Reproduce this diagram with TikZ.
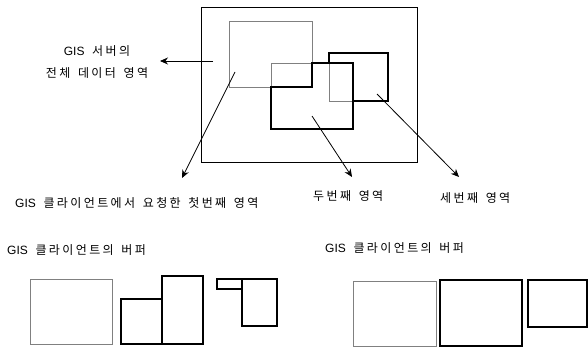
\documentclass[tikz,border=0pt]{standalone}
\usepackage{fontspec}
\setmainfont{Noto Sans CJK KR}
\newfontfamily\kr[LetterSpace=20,WordSpace=1.5]{Noto Sans CJK KR}
\newfontfamily\latf{Liberation Sans}
\newcommand{\gisw}{{\latf GIS}}
\usetikzlibrary{arrows.meta}
\begin{document}
\begin{tikzpicture}[x=1pt,y=-1pt,
  thin gray/.style={draw=black!50,line width=0.9pt},
  thickline/.style={draw=black,line width=2pt,line join=miter},
  frame/.style={draw=black,line width=0.8pt},
  pointer/.style={draw=black,line width=0.8pt,-{Stealth[length=8pt,width=7pt]}},
  lbl/.style={font=\kr\fontsize{12}{14}\selectfont,inner sep=0pt}]
\useasboundingbox (0,0) rectangle (588,347);
% top scene
\draw[frame] (201,7) rectangle (417,162);
\draw[thin gray] (229,21) rectangle (312,87);
\draw[thin gray] (271,87) -- (271,63) -- (312,63);
\draw[thin gray] (329,63) -- (329,101) -- (353,101);
\draw[thickline] (271,87) -- (312,87) -- (312,63) -- (353,63) -- (353,129) -- (271,129) -- cycle;
\draw[thickline] (329,63) -- (329,53) -- (388,53) -- (388,101) -- (353,101);
% labels
\node[lbl] (srv1) at (97,51) {\gisw{} 서버의};
\node[lbl] (srv2) at (97,73) {전체 데이터 영역};
\node[lbl,anchor=west] (first) at (15,203) {\gisw{} 클라이언트에서 요청한 첫번째 영역};
\node[lbl,anchor=west] (second) at (313,196) {두번째 영역};
\node[lbl,anchor=west] (third) at (440,198) {세번째 영역};
% arrow anchors
\coordinate (a0s) at (213,61);
\coordinate (a0e) at (160,61);
\coordinate (a1s) at (235,72);
\coordinate (a1e) at (182,178);
\coordinate (a2s) at (312,116);
\coordinate (a2e) at (352,177);
\coordinate (a3s) at (377,94);
\coordinate (a3e) at (459,177);
\draw[pointer] (a0s) -- (a0e);
\draw[pointer] (a1s) -- (a1e);
\draw[pointer] (a2s) -- (a2e);
\draw[pointer] (a3s) -- (a3e);
% bottom left
\node[lbl,anchor=west] (bufL) at (7,250) {\gisw{} 클라이언트의 버퍼};
\draw[thin gray] (30,279) rectangle (112,344);
\draw[thickline] (121,299) rectangle (162,344);
\draw[thickline] (162,276) rectangle (203,344);
\draw[thickline] (217,279) rectangle (242,289);
\draw[thickline] (242,279) rectangle (277,326);
% bottom right
\node[lbl,anchor=west] (bufR) at (325,248) {\gisw{} 클라이언트의 버퍼};
\draw[thin gray] (353,281) rectangle (436,346);
\draw[thickline] (440,280) rectangle (522,346);
\draw[thickline] (528,280) rectangle (587,327);
\end{tikzpicture}
\end{document}
